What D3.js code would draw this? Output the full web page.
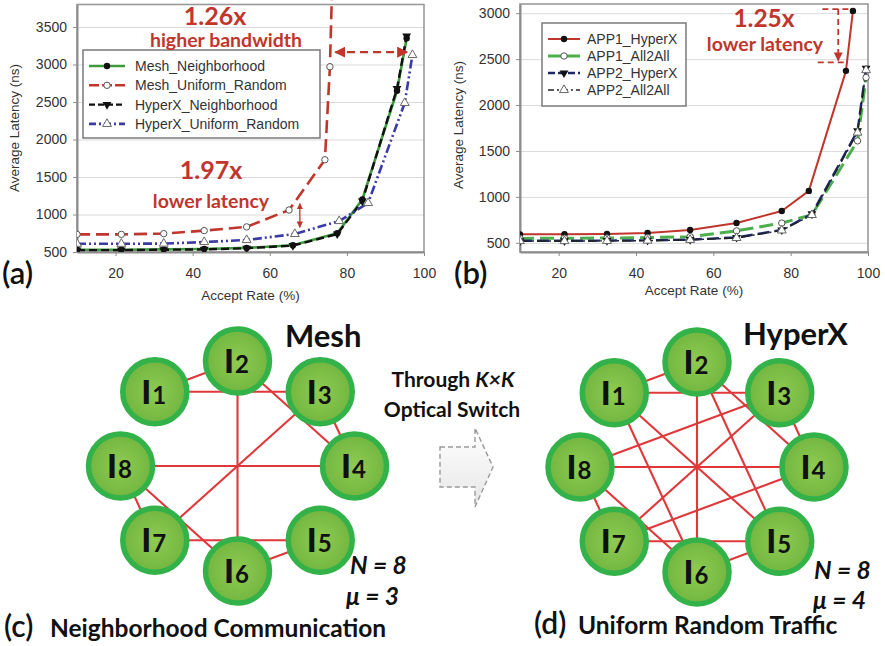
<!DOCTYPE html>
<html><head><meta charset="utf-8">
<script src="https://cdn.jsdelivr.net/npm/d3@7"></script>
<style>
body{margin:0;background:#fff}
svg{display:block}
</style></head><body>
<svg id="fig" width="885" height="646"></svg>
<script>
// ---------- shared axis data ----------
const rateTicks = [20, 40, 60, 80, 100];
const latencyTicksA = [500, 1000, 1500, 2000, 2500, 3000, 3500];
const latencyTicksB = [500, 1000, 1500, 2000, 2500, 3000];

// ---------- panel (a): Mesh vs HyperX under two traffic patterns ----------
const rateNeighborhood = [10, 21.5, 32.5, 43, 54, 66, 77.5, 84, 93, 95.5];
const meshNeighborhood = [530, 530, 535, 540, 555, 590, 750, 1200, 2650, 3350];
const hyperxNeighborhood = [525, 525, 530, 535, 550, 585, 740, 1180, 2680, 3380];
const rateMeshUniform = [10, 21.5, 32.5, 43, 54, 65, 74.3, 75.6, 76.3];
const meshUniform = [735, 735, 745, 785, 835, 1060, 1730, 2970, 4300];
const rateHyperxUniform = [10, 21.5, 32.5, 43, 54, 66.5, 78, 85.5, 95, 97];
const hyperxUniform = [610, 610, 612, 633, 660, 740, 913, 1153, 2487, 3127];

// ---------- panel (b): two applications on HyperX vs All2All ----------
const rateApp1HyperX = [10, 21.5, 32.5, 43, 54, 66, 77.7, 84.7, 94.3, 96.1];
const app1HyperX = [592, 594, 596, 607, 640, 716, 847, 1065, 2372, 3025];
const rateOthers = [10, 21.5, 32.5, 43, 54, 66, 77.7, 85.5, 97.3, 99.5];
const app1All2All = [548, 550, 552, 557, 567, 630, 715, 805, 1610, 2300];
const app2HyperX = [522, 522, 524, 527, 535, 558, 640, 815, 1720, 2400];
const app2All2All = [519, 519, 521, 524, 532, 553, 635, 803, 1700, 2380];

// ---------- panels (c)/(d): interconnect graphs ----------
const nodeIds = [1, 2, 3, 4, 5, 6, 7, 8];
const meshLinks = [[1,2],[1,3],[2,4],[2,6],[3,4],[3,7],[4,8],[8,6],[8,7],[7,5],[6,5]];
const hyperxLinks = [[1,2],[3,4],[8,7],[6,5],[8,4],[7,5],[2,6],[1,3],[8,3],[1,5],[2,4],[2,5],[3,7],[4,7],[8,6],[1,6]];

const RED = "#c0362c";
const svg = d3.select("#fig");
const chartFont = "'Liberation Sans', Arial, sans-serif";
const calloutFont = "Lato, 'Open Sans', sans-serif";

const defs = svg.append("defs");

function drawMarker(g, kind, cx, cy) {
  if (kind === "dot") {
    g.append("circle").attr("cx", cx).attr("cy", cy).attr("r", 3.2).attr("fill", "#111");
  } else if (kind === "ring") {
    g.append("circle").attr("cx", cx).attr("cy", cy).attr("r", 3.2)
      .attr("fill", "#fff").attr("stroke", "#555").attr("stroke-width", 1);
  } else if (kind === "tri") {
    g.append("path").attr("d", d3.symbol(d3.symbolTriangle, 34)())
      .attr("transform", `translate(${cx},${cy}) rotate(180)`).attr("fill", "#111");
  } else if (kind === "otri") {
    g.append("path").attr("d", d3.symbol(d3.symbolTriangle, 34)())
      .attr("transform", `translate(${cx},${cy})`)
      .attr("fill", "#fff").attr("stroke", "#666").attr("stroke-width", 1);
  }
}

function panel(opt) {
  const g = svg.append("g");
  const x = d3.scaleLinear().domain([10, 100]).range(opt.xRange);
  const y = d3.scaleLinear().domain(opt.yDomain).range(opt.yRange);
  const [x0, x1] = opt.xRange;
  const [yb, yt] = opt.yRange;

  // horizontal gridlines
  g.append("g").attr("transform", `translate(${x0},0)`)
    .call(d3.axisLeft(y).tickValues(opt.yTicks).tickSize(-(x1 - x0)).tickFormat(""))
    .call(s => { s.select(".domain").remove(); s.selectAll("line").attr("stroke", "#dadada").attr("stroke-width", 1); });

  // plot-area border
  g.append("rect").attr("x", x0).attr("y", yt).attr("width", x1 - x0).attr("height", yb - yt)
    .attr("fill", "none").attr("stroke", "#9a9a9a").attr("stroke-width", 1.6);

  // axes
  const ya = g.append("g").attr("transform", `translate(${x0},0)`)
    .call(d3.axisLeft(y).tickValues(opt.yTicks).tickFormat(d3.format("d"))
      .tickSize(4).tickPadding(6).tickSizeOuter(0));
  const xa = g.append("g").attr("transform", `translate(0,${yb})`)
    .call(d3.axisBottom(x).tickValues(rateTicks).tickFormat(d3.format("d"))
      .tickSize(4).tickPadding(12).tickSizeOuter(0));
  [ya, xa].forEach(a => {
    a.attr("font-family", chartFont).attr("font-size", 14);
    a.select(".domain").attr("stroke", "#8c8c8c").attr("stroke-width", 2);
    a.selectAll("line").attr("stroke", "#8c8c8c");
    a.selectAll("text").attr("fill", "#333");
  });

  // axis titles
  g.append("text").attr("x", (x0 + x1) / 2).attr("y", opt.xTitleY)
    .attr("text-anchor", "middle").attr("font-family", chartFont).attr("font-size", 13.5).attr("fill", "#333")
    .text("Accept Rate (%)");
  g.append("text").attr("transform", `translate(${opt.yTitleX},${opt.yTitleY}) rotate(-90)`)
    .attr("text-anchor", "middle").attr("font-family", chartFont).attr("font-size", 13.5).attr("fill", "#333")
    .text("Average Latency (ns)");

  // series, clipped to the plot column
  const clipId = "clip" + opt.id;
  defs.append("clipPath").attr("id", clipId).append("rect")
    .attr("x", x0).attr("y", 0).attr("width", x1 - x0 + 6).attr("height", yb);
  const plot = g.append("g").attr("clip-path", `url(#${clipId})`);
  opt.series.forEach(s => {
    const pts = s.rates.map((r, i) => [r, s.values[i]]);
    const line = d3.line().x(d => x(d[0])).y(d => y(d[1]));
    plot.append("path").attr("d", line(pts)).attr("fill", "none")
      .attr("stroke", s.color).attr("stroke-width", s.width)
      .attr("stroke-dasharray", s.dash || null).attr("stroke-linejoin", "round");
  });
  opt.series.forEach(s => {
    s.rates.forEach((r, i) => {
      if (s.values[i] <= opt.yDomain[1]) drawMarker(plot, s.marker, x(r), y(s.values[i]));
    });
  });

  // legend
  const L = opt.legend;
  g.append("rect").attr("x", L.x).attr("y", L.y).attr("width", L.w).attr("height", L.h)
    .attr("fill", "#fff").attr("stroke", "#7a7a7a").attr("stroke-width", 1.5);
  opt.series.forEach((s, i) => {
    const ry = L.y + L.first + i * L.step;
    g.append("line").attr("x1", L.x + 6).attr("x2", L.x + 6 + L.sample).attr("y1", ry).attr("y2", ry)
      .attr("stroke", s.color).attr("stroke-width", s.width)
      .attr("stroke-dasharray", s.legendDash !== undefined ? s.legendDash : (s.dash || null));
    drawMarker(g, s.marker, L.x + 6 + L.sample / 2, ry);
    g.append("text").attr("x", L.x + L.textDx).attr("y", ry).attr("dy", "0.36em")
      .attr("font-family", chartFont).attr("font-size", L.font).attr("fill", "#333").text(s.name);
  });

  // panel tag
  g.append("text").attr("x", opt.tag.x).attr("y", opt.tag.y).attr("font-family", calloutFont)
    .attr("font-size", 31).attr("font-weight", 600).attr("fill", "#111").text(opt.tag.text);

  return { g, x, y };
}

defs.append("marker").attr("id", "arrowRed").attr("viewBox", "0 0 10 10").attr("refX", 9).attr("refY", 5)
  .attr("markerWidth", 5).attr("markerHeight", 5).attr("orient", "auto-start-reverse")
  .append("path").attr("d", "M0,0 L10,5 L0,10 z").attr("fill", RED);

function callout(g, text, cx, baseline, size) {
  g.append("text").attr("x", cx).attr("y", baseline).attr("text-anchor", "middle")
    .attr("font-family", calloutFont).attr("font-weight", 700).attr("font-size", size)
    .attr("fill", RED).text(text);
}

// ---------- (a) ----------
const A = panel({
  id: "A", xRange: [77, 424], yDomain: [500, 3800], yRange: [252, 4.5], yTicks: latencyTicksA,
  xTitleY: 300, yTitleX: 19, yTitleY: 128,
  legend: { x: 83, y: 50, w: 237, h: 88, first: 16, step: 19.3, sample: 36, textDx: 52, font: 14 },
  tag: { x: 2, y: 284, text: "(a)" },
  series: [
    { name: "Mesh_Neighborhood", rates: rateNeighborhood, values: meshNeighborhood, color: "#3c9b3c", width: 2.6, marker: "dot" },
    { name: "Mesh_Uniform_Random", rates: rateMeshUniform, values: meshUniform, color: "#c0362c", width: 2.6, dash: "13,6", legendDash: "10,3", marker: "ring" },
    { name: "HyperX_Neighborhood", rates: rateNeighborhood, values: hyperxNeighborhood, color: "#111", width: 2.4, dash: "8,4", legendDash: "6,3", marker: "tri" },
    { name: "HyperX_Uniform_Random", rates: rateHyperxUniform, values: hyperxUniform, color: "#3b3ba8", width: 2.6, dash: "9,3,2,3,2,3", legendDash: "7,3,2,3", marker: "otri" }
  ]
});
callout(A.g, "1.26x", 215, 25, 25);
callout(A.g, "higher bandwidth", 226, 47, 19.5);
callout(A.g, "1.97x", 211, 179, 25);
callout(A.g, "lower latency", 211, 208, 19.5);
A.g.append("line")
  .attr("x1", A.x(95.6)).attr("x2", A.x(77)).attr("y1", A.y(3165)).attr("y2", A.y(3165))
  .attr("stroke", RED).attr("stroke-width", 2.2).attr("stroke-dasharray", "8,5")
  .attr("marker-start", "url(#arrowRed)").attr("marker-end", "url(#arrowRed)");
A.g.append("line")
  .attr("x1", A.x(67.8)).attr("x2", A.x(67.8)).attr("y1", A.y(1145)).attr("y2", A.y(830))
  .attr("stroke", RED).attr("stroke-width", 1.3)
  .attr("marker-start", "url(#arrowRed)").attr("marker-end", "url(#arrowRed)");

// ---------- (b) ----------
const B = panel({
  id: "B", xRange: [520, 868], yDomain: [400, 3100], yRange: [252, 4], yTicks: latencyTicksB,
  xTitleY: 295, yTitleX: 463, yTitleY: 125,
  legend: { x: 542, y: 23, w: 144, h: 83, first: 16, step: 17, sample: 32, textDx: 45, font: 14 },
  tag: { x: 454, y: 284, text: "(b)" },
  series: [
    { name: "APP1_HyperX", rates: rateApp1HyperX, values: app1HyperX, color: "#c0362c", width: 2, marker: "dot" },
    { name: "APP1_All2All", rates: rateOthers, values: app1All2All, color: "#4cae4c", width: 3, dash: "14,6", legendDash: "", marker: "ring" },
    { name: "APP2_HyperX", rates: rateOthers, values: app2HyperX, color: "#1e2868", width: 2.4, dash: "12,5", legendDash: "7,3", marker: "tri" },
    { name: "APP2_All2All", rates: rateOthers, values: app2All2All, color: "#222", width: 1.4, dash: "9,3,2,3", legendDash: "6,3,2,3", marker: "otri" }
  ]
});
callout(B.g, "1.25x", 764, 27, 24.5);
callout(B.g, "lower latency", 765, 51, 19.5);
[[88.2, 96.0, 3045], [87.0, 94.8, 2465]].forEach(([r0, r1, v]) => {
  B.g.append("line").attr("x1", B.x(r0)).attr("x2", B.x(r1)).attr("y1", B.y(v)).attr("y2", B.y(v))
    .attr("stroke", RED).attr("stroke-width", 1.8).attr("stroke-dasharray", "6,4");
});
B.g.append("line").attr("x1", B.x(92.3)).attr("x2", B.x(92.3)).attr("y1", B.y(3045)).attr("y2", B.y(2485))
  .attr("stroke", RED).attr("stroke-width", 1.8).attr("stroke-dasharray", "6,4")
  .attr("marker-end", "url(#arrowRed)");

// ---------- (c) and (d): node rings ----------
const grad = defs.append("radialGradient").attr("id", "nodeFill");
grad.append("stop").attr("offset", "0%").attr("stop-color", "#8fcb52");
grad.append("stop").attr("offset", "100%").attr("stop-color", "#72b640");

// node index -> angle around the ring (node 2 at the top, clockwise)
const angle = d3.scaleLinear().domain([2, 10]).range([-Math.PI / 2, 1.5 * Math.PI]);

function ring(cx, cy, links) {
  const g = svg.append("g");
  const pos = id => [cx + 117 * Math.cos(angle(id)), cy + 105 * Math.sin(angle(id))];
  links.forEach(([a, b]) => {
    const p = pos(a), q = pos(b);
    g.append("line").attr("x1", p[0]).attr("y1", p[1]).attr("x2", q[0]).attr("y2", q[1])
      .attr("stroke", "#e0383a").attr("stroke-width", 2.1);
  });
  nodeIds.forEach(id => {
    const [px, py] = pos(id);
    g.append("circle").attr("cx", px).attr("cy", py).attr("r", 32)
      .attr("fill", "url(#nodeFill)").attr("stroke", "#33b249").attr("stroke-width", 5.5);
    const t = g.append("text").attr("x", px - 1).attr("y", py + 12).attr("text-anchor", "middle")
      .attr("font-family", calloutFont).attr("font-weight", 900).attr("fill", "#111");
    t.append("tspan").attr("font-size", 33).text("I");
    t.append("tspan").attr("font-size", 24).attr("font-weight", 700).attr("dx", 1).text(id);
  });
  return g;
}
ring(237.5, 466, meshLinks);
ring(697, 467, hyperxLinks);

function label(text, x, y, size, opts = {}) {
  return svg.append("text").attr("x", x).attr("y", y).attr("font-family", calloutFont)
    .attr("font-size", size).attr("font-weight", opts.weight || 700)
    .attr("font-style", opts.italic ? "italic" : null)
    .attr("text-anchor", opts.anchor || "start").attr("fill", "#111").text(text);
}
label("Mesh", 285, 347, 31);
label("HyperX", 743, 345, 31);

const thr = svg.append("text").attr("x", 453).attr("y", 387).attr("text-anchor", "middle")
  .attr("font-family", calloutFont).attr("font-size", 21).attr("font-weight", 700).attr("fill", "#111");
thr.append("tspan").text("Through ");
thr.append("tspan").attr("font-style", "italic").text("K×K");
label("Optical Switch", 452, 417, 21, { anchor: "middle" });

// dashed block arrow between the two graphs
const arrowPath = d3.path();
arrowPath.moveTo(440, 447); arrowPath.lineTo(475, 447); arrowPath.lineTo(475, 428);
arrowPath.lineTo(493, 467); arrowPath.lineTo(475, 507); arrowPath.lineTo(475, 487);
arrowPath.lineTo(440, 487); arrowPath.closePath();
const ag = defs.append("linearGradient").attr("id", "arrowFill").attr("x1", 0).attr("x2", 0).attr("y1", 0).attr("y2", 1);
ag.append("stop").attr("offset", "0%").attr("stop-color", "#ffffff");
ag.append("stop").attr("offset", "100%").attr("stop-color", "#e6e6e6");
svg.append("path").attr("d", arrowPath.toString()).attr("fill", "url(#arrowFill)")
  .attr("stroke", "#9a9a9a").attr("stroke-width", 1.4).attr("stroke-dasharray", "5,3");

label("N = 8", 350, 574, 24.5, { italic: true });
label("μ  = 3", 346, 605, 24.5, { italic: true });
label("N = 8", 814, 579, 24.5, { italic: true });
label("μ  = 4", 813, 609, 24.5, { italic: true });

label("(c)", 4, 637, 30, { weight: 600 });
label("Neighborhood Communication", 50, 637, 24.5);
label("(d)", 534, 634, 30, { weight: 600 });
label("Uniform Random Traffic", 578, 634, 24.5);
</script>
</body></html>
